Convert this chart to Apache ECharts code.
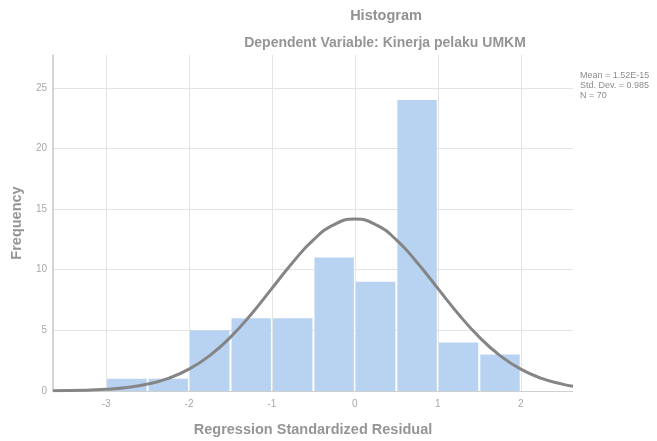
<!DOCTYPE html>
<html>
<head>
<meta charset="utf-8">
<script src="https://cdn.jsdelivr.net/npm/echarts@6/dist/echarts.min.js"></script>
<style>
  html, body { margin: 0; padding: 0; background: #fff; }
  #main { width: 657px; height: 441px; }
</style>
</head>
<body>
<div id="main"></div>
<script>
var chart = echarts.init(document.getElementById("main"));

// histogram bins (start, end) and counts
var binStart = [-3, -2.5, -2, -1.5, -1, -0.5, 0, 0.5, 1, 1.5];
var binEnd = [-2.5, -2, -1.5, -1, -0.5, 0, 0.5, 1, 1.5, 2];
var counts = [1, 1, 5, 6, 6, 11, 9, 24, 4, 3];

// normal curve
var curveX = [-3.64, -3.25, -3, -2.75, -2.5, -2.25, -2, -1.75, -1.5, -1.25, -1, -0.75, -0.5, -0.25,
  0, 0.25, 0.5, 0.75, 1, 1.25, 1.5, 1.75, 2, 2.25, 2.5, 2.63];
var curveY = [0.02, 0.06, 0.14, 0.29, 0.57, 1.04, 1.8, 2.92, 4.44, 6.33, 8.46, 10.6, 12.46, 13.72,
  14.17, 13.72, 12.46, 10.6, 8.46, 6.33, 4.44, 2.92, 1.8, 1.04, 0.57, 0.4];

var statsText = ["Mean = 1.52E-15", "Std. Dev. = 0.985", "N = 70"];

var bars = [];
for (var i = 0; i < counts.length; i++) {
  bars.push([binStart[i], binEnd[i], counts[i]]);
}
var curve = [];
for (var j = 0; j < curveX.length; j++) {
  curve.push([curveX[j], curveY[j]]);
}

var option = {
  backgroundColor: "#ffffff",
  animation: false,
  textStyle: { fontFamily: "Liberation Sans, Arial, sans-serif" },
  title: [
    {
      text: "Histogram",
      left: 381,
      top: 3,
      textAlign: "center",
      textStyle: { color: "#919191", fontSize: 14.5, fontWeight: "bold" }
    },
    {
      text: "Dependent Variable: Kinerja pelaku UMKM",
      left: 380,
      top: 31,
      textAlign: "center",
      textStyle: { color: "#959595", fontSize: 14, fontWeight: "bold" }
    },
    {
      text: statsText.join("\n"),
      left: 575,
      top: 66,
      textStyle: { color: "#8c8c8c", fontSize: 9, fontWeight: "normal", lineHeight: 10 }
    }
  ],
  grid: { left: 53, right: 84, top: 55, bottom: 50, outerBoundsMode: "none", containLabel: false },
  xAxis: {
    type: "value",
    min: -3.64,
    max: 2.63,
    name: "Regression Standardized Residual",
    nameLocation: "middle",
    nameGap: 31,
    nameTextStyle: { color: "#959595", fontSize: 14.5, fontWeight: "bold" },
    axisLine: { onZero: false, lineStyle: { color: "#cfcfcf", width: 1 } },
    axisTick: { show: false },
    axisLabel: {
      color: "#a8a8a8",
      fontSize: 10,
      margin: 8,
      showMinLabel: false,
      showMaxLabel: false,
      formatter: function (v) {
        return Math.abs(v - Math.round(v)) < 1e-6 ? String(Math.round(v)) : "";
      }
    },
    splitLine: { show: true, showMinLine: false, showMaxLine: false, lineStyle: { color: "#e4e4e4" } }
  },
  yAxis: {
    type: "value",
    min: 0,
    max: 27.7,
    interval: 5,
    name: "Frequency",
    nameLocation: "middle",
    nameGap: 28,
    nameTextStyle: { color: "#959595", fontSize: 14.5, fontWeight: "bold" },
    axisLine: { show: true, onZero: false, lineStyle: { color: "#c8c8c8", width: 1.5 } },
    axisTick: { show: false },
    axisLabel: { color: "#a8a8a8", fontSize: 10, margin: 6, showMaxLabel: false },
    splitLine: { show: true, showMinLine: false, showMaxLine: false, lineStyle: { color: "#e4e4e4" } }
  },
  series: [
    {
      type: "custom",
      name: "Frequency",
      data: bars,
      renderItem: function (params, api) {
        var p0 = api.coord([api.value(0), api.value(2)]);
        var p1 = api.coord([api.value(1), 0]);
        return {
          type: "rect",
          shape: { x: p0[0] + 1, y: p0[1], width: p1[0] - p0[0] - 2, height: p1[1] - p0[1] },
          style: { fill: "#b8d3f2" }
        };
      },
      encode: { x: [0, 1], y: 2 },
      z: 2
    },
    {
      type: "line",
      data: curve,
      smooth: true,
      symbol: "none",
      lineStyle: { color: "#858585", width: 3 },
      z: 3
    }
  ]
};
chart.setOption(option);
</script>
</body>
</html>
